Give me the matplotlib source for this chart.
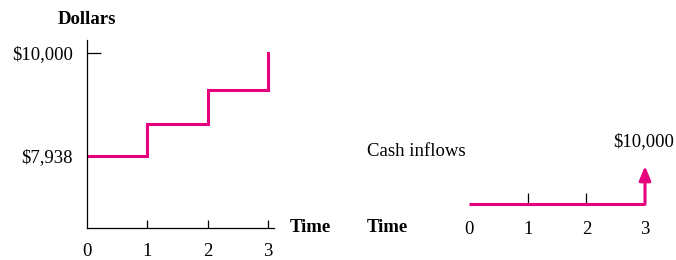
import matplotlib
matplotlib.use("Agg")
import matplotlib.pyplot as plt

# Data
periods = [0, 1, 2, 3]
period_labels = ["0", "1", "2", "3"]
balance = [7938, 8573, 9259, 10000]
ytick_values = [7938, 10000]
ytick_labels = ["$7,938", "$10,000"]
cash_inflows = [0, 0, 0, 10000]

W, H = 676, 260
MAG = "#E6007E"
FONT = "Liberation Serif"
FS = 13.5
plt.rcParams["font.family"] = FONT

fig = plt.figure(figsize=(W / 100, H / 100), dpi=100)

def px_rect(x0, x1, ytop, ybot):
    return [x0 / W, 1 - ybot / H, (x1 - x0) / W, (ybot - ytop) / H]

# Left chart
ax = fig.add_axes(px_rect(87, 274, 40, 228))
ax.step(periods, balance, where="post", color=MAG, lw=2.2, solid_joinstyle="miter")
ax.set_xlim(0, 3.1)
ax.set_ylim(6497, 10260)
for s in ["top", "right"]:
    ax.spines[s].set_visible(False)
for s in ["left", "bottom"]:
    ax.spines[s].set_linewidth(0.9)
ax.set_xticks(periods)
ax.set_xticklabels(period_labels, fontsize=FS)
ax.set_yticks(ytick_values)
ax.set_yticklabels(ytick_labels, fontsize=FS)
ax.tick_params(axis="x", direction="in", length=6, width=0.9, pad=11)
ax.tick_params(axis="y", direction="in", length=10, width=0.9, pad=10)
ax.xaxis.get_major_ticks()[0].tick1line.set_visible(False)
ax.yaxis.get_major_ticks()[0].tick1line.set_visible(False)

fig.text(58 / W, 1 - 20 / H, "Dollars", fontsize=FS, fontweight="bold", ha="left", va="center")
fig.text(290 / W, 1 - 228 / H, "Time", fontsize=FS, fontweight="bold", ha="left", va="center")

# Right chart (cash flow timeline)
ax2 = fig.add_axes(px_rect(469, 645, 142, 204))
ax2.set_xlim(0, 3)
ax2.set_ylim(0, 16316)
ax2.plot(periods, [0] * len(periods), color=MAG, lw=2.2, solid_capstyle="butt", clip_on=False)
ax2.annotate("", xy=(periods[-1], cash_inflows[-1]), xytext=(periods[-1], 0),
             arrowprops=dict(arrowstyle="-|>,head_length=0.85,head_width=0.35",
                             color=MAG, lw=2.2, shrinkA=0, shrinkB=0, mutation_scale=10),
             annotation_clip=False)
ax2.annotate("$10,000", xy=(periods[-1], cash_inflows[-1]), xytext=(-1, 17.5),
             textcoords="offset points", fontsize=FS, ha="center", va="center",
             annotation_clip=False)
for s in ax2.spines.values():
    s.set_visible(False)
ax2.set_yticks([])
ax2.set_xticks(periods)
ax2.set_xticklabels(period_labels, fontsize=FS)
ax2.tick_params(axis="x", direction="in", length=8, width=0.9, pad=12, colors="black")
ax2.xaxis.get_major_ticks()[0].tick1line.set_visible(False)
ax2.xaxis.get_major_ticks()[3].tick1line.set_visible(False)
ax2.patch.set_visible(False)

fig.text(367 / W, 1 - 152 / H, "Cash inflows", fontsize=FS, ha="left", va="center")
fig.text(367 / W, 1 - 227 / H, "Time", fontsize=FS, fontweight="bold", ha="left", va="center")

fig.savefig("out.png", dpi=100)
